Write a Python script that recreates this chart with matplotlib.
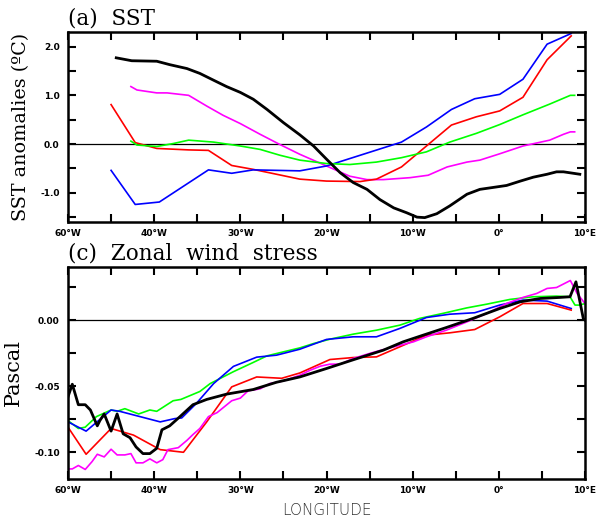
import matplotlib
matplotlib.use("Agg")
import matplotlib.pyplot as plt
from matplotlib.ticker import MultipleLocator

# ---------------- data ----------------
# (a) SST anomalies
sst_black_lon = [-44.4, -42.6, -39.7, -38.2, -36.2, -34.7, -33.1, -31.6, -30.0, -28.5, -26.9, -25.0, -23.1,
                 -21.5, -20.0, -18.4, -16.9, -15.3, -13.8, -12.2, -10.7, -9.5, -8.6, -7.2, -5.7, -3.7, -2.2,
                 -0.25, 0.9, 2.5, 4.0, 5.6, 6.7, 7.5, 9.4]
sst_black = [1.77, 1.71, 1.70, 1.63, 1.55, 1.45, 1.31, 1.18, 1.06, 0.92, 0.71, 0.44, 0.19,
             -0.04, -0.31, -0.59, -0.79, -0.93, -1.14, -1.31, -1.41, -1.50, -1.51, -1.43, -1.27, -1.03, -0.93,
             -0.88, -0.85, -0.76, -0.68, -0.62, -0.57, -0.57, -0.62]

sst_magenta_lon = [-42.7, -42.0, -39.7, -38.5, -36.0, -33.9, -32.0, -30.0, -27.7, -25.4, -23.1, -20.0, -17.3,
                   -15.3, -13.4, -10.3, -8.2, -6.0, -3.7, -2.2, 0.1, 2.8, 5.9, 7.5, 8.3, 8.8]
sst_magenta = [1.18, 1.11, 1.05, 1.05, 1.00, 0.78, 0.59, 0.42, 0.20, -0.01, -0.21, -0.45, -0.66,
               -0.73, -0.73, -0.69, -0.64, -0.47, -0.37, -0.33, -0.20, -0.04, 0.08, 0.20, 0.25, 0.25]

sst_red_lon = [-45.0, -42.2, -39.7, -36.0, -33.7, -31.0, -28.5, -23.1, -20.0, -16.1, -14.2, -11.3, -8.4,
               -5.5, -2.6, 0.1, 2.8, 5.6, 8.4]
sst_red = [0.81, 0.03, -0.09, -0.12, -0.13, -0.44, -0.52, -0.72, -0.76, -0.77, -0.72, -0.47, -0.04,
           0.39, 0.56, 0.68, 0.96, 1.73, 2.22]

sst_blue_lon = [-45.0, -42.2, -39.4, -33.7, -31.0, -28.5, -23.1, -20.0, -11.3, -8.4, -5.5, -2.8, 0.1, 2.8,
                5.6, 8.4]
sst_blue = [-0.54, -1.24, -1.19, -0.53, -0.60, -0.53, -0.55, -0.45, 0.04, 0.35, 0.71, 0.93, 1.02, 1.33,
            2.05, 2.27]

sst_green_lon = [-42.7, -42.0, -39.7, -37.8, -36.0, -33.1, -30.0, -27.7, -25.4, -23.1, -20.0, -17.3, -14.2,
                 -11.3, -8.4, -5.7, -2.6, 0.1, 2.8, 5.9, 8.3, 8.8]
sst_green = [0.06, -0.02, -0.05, 0.01, 0.08, 0.04, -0.04, -0.11, -0.23, -0.33, -0.40, -0.42, -0.37,
             -0.28, -0.16, 0.04, 0.22, 0.40, 0.60, 0.82, 1.00, 1.00]

# (c) Zonal wind stress
ws_black_lon = [-50.0, -49.5, -48.8, -48.0, -47.4, -46.6, -46.3, -45.8, -45.0, -44.3, -43.6, -42.8, -42.1,
                -41.3, -40.5, -39.7, -39.1, -38.2, -37.0, -35.5, -33.9, -31.6, -28.5, -25.8, -23.1, -20.0,
                -16.9, -13.4, -11.1, -8.8, -6.1, -3.0, 0.1, 2.5, 4.8, 7.1, 8.26, 8.95, 9.8, 10.0]
ws_black = [-0.058, -0.0485, -0.064, -0.064, -0.068, -0.080, -0.076, -0.071, -0.084, -0.071, -0.086, -0.089,
            -0.096, -0.101, -0.101, -0.097, -0.083, -0.080, -0.073, -0.064, -0.060, -0.056, -0.0525, -0.047,
            -0.043, -0.0366, -0.030, -0.0227, -0.0164, -0.0114, -0.0056, 0.0013, 0.0088, 0.0139, 0.0164,
            0.0172, 0.0177, 0.029, 0.0013, 0.0]

ws_green_lon = [-50.0, -48.8, -48.0, -46.7, -45.0, -44.3, -43.4, -41.8, -40.5, -39.7, -37.8, -36.9, -34.7,
                -33.5, -30.8, -28.5, -26.9, -25.0, -23.1, -21.5, -19.6, -16.9, -14.2, -11.5, -9.2, -6.5,
                -3.7, -1.4, 1.3, 4.0, 6.7, 8.26, 8.84, 9.4, 10.0]
ws_green = [-0.076, -0.082, -0.081, -0.073, -0.068, -0.069, -0.067, -0.071, -0.068, -0.069, -0.061, -0.060,
            -0.054, -0.048, -0.039, -0.032, -0.027, -0.024, -0.021, -0.0177, -0.0144, -0.0106, -0.0076,
            -0.0038, 0.0013, 0.0051, 0.0093, 0.0121, 0.0157, 0.0177, 0.0182, 0.0177, 0.0114, 0.0114, 0.0126]

ws_blue_lon = [-50.0, -47.9, -45.0, -44.0, -39.3, -37.6, -36.8, -35.1, -33.1, -30.8, -28.1, -25.8, -23.1,
               -20.0, -16.9, -14.2, -11.5, -8.4, -5.7, -2.8, 0.1, 2.8, 5.6, 8.4]
ws_blue = [-0.077, -0.084, -0.068, -0.069, -0.077, -0.0745, -0.074, -0.063, -0.048, -0.035, -0.028, -0.0265,
           -0.022, -0.0146, -0.0126, -0.0126, -0.0063, 0.0020, 0.0045, 0.0056, 0.0114, 0.0152, 0.0144, 0.0088]

ws_red_lon = [-50.0, -47.9, -45.0, -42.4, -39.3, -36.6, -33.9, -31.0, -28.1, -25.2, -23.1, -19.6, -16.9,
              -14.2, -11.5, -8.4, -5.7, -2.8, 0.1, 2.8, 5.6, 8.4]
ws_red = [-0.081, -0.1015, -0.082, -0.087, -0.098, -0.100, -0.077, -0.0505, -0.043, -0.044, -0.040, -0.0298,
          -0.0283, -0.0278, -0.0202, -0.0114, -0.0096, -0.0071, 0.0025, 0.0126, 0.0126, 0.0076]

ws_magenta_lon = [-50.0, -49.5, -48.8, -48.0, -47.2, -46.6, -45.8, -45.0, -44.3, -43.4, -42.7, -42.1, -41.3,
                  -40.5, -39.7, -39.0, -38.4, -37.2, -36.2, -35.5, -34.7, -33.7, -32.7, -31.0, -30.0, -29.1,
                  -27.7, -26.6, -25.0, -23.1, -21.9, -20.7, -19.6, -18.4, -16.9, -14.9, -13.8, -11.9, -9.9,
                  -8.4, -6.1, -3.7, -1.4, 0.9, 2.8, 4.4, 5.6, 6.7, 8.3, 9.1, 10.0]
ws_magenta = [-0.1126, -0.1126, -0.110, -0.113, -0.107, -0.1015, -0.1035, -0.0977, -0.102, -0.102, -0.101,
              -0.108, -0.108, -0.105, -0.108, -0.1056, -0.098, -0.0965, -0.091, -0.0866, -0.082, -0.073,
              -0.070, -0.061, -0.059, -0.0535, -0.052, -0.048, -0.046, -0.0417, -0.0379, -0.0348, -0.0333,
              -0.0333, -0.029, -0.025, -0.023, -0.0197, -0.0164, -0.0126, -0.0076, -0.0013, 0.0051, 0.0126,
              0.0172, 0.0202, 0.024, 0.0247, 0.030, 0.020, 0.0126]

x_ticks = [-50, -40, -30, -20, -10, 0, 10]
x_ticklabels = ["60°W", "40°W", "30°W", "20°W", "10°W", "0°", "10°E"]
sst_yticks = [-1.0, 0.0, 1.0, 2.0]
sst_yticklabels = ["-1.0", "0.0", "1.0", "2.0"]
ws_yticks = [-0.10, -0.05, 0.0]
ws_yticklabels = ["-0.10", "-0.05", "0.00"]

# ---------------- figure ----------------
fig = plt.figure(figsize=(5.99, 5.17), dpi=100)
W, H = 599, 517
ax1 = fig.add_axes([68 / W, 1 - 222 / H, 517 / W, 190 / H])
ax2 = fig.add_axes([68 / W, 1 - 478.7 / H, 517 / W, 211.4 / H])

serif = ["DejaVu Serif"]
tick_font = dict(family="DejaVu Sans", weight="bold", size=6.5)


def style(ax, yticks, yticklabels, yminor):
    ax.set_xlim(-50, 10)
    ax.set_xticks(x_ticks)
    ax.set_xticklabels(x_ticklabels, **tick_font)
    ax.xaxis.set_minor_locator(MultipleLocator(5))
    ax.set_yticks(yticks)
    ax.set_yticklabels(yticklabels, **tick_font)
    ax.yaxis.set_minor_locator(MultipleLocator(yminor))
    ax.tick_params(which="both", direction="in", top=True, right=True, length=6, width=1.5, pad=6)
    ax.tick_params(axis="x", which="major", pad=5)
    for s in ax.spines.values():
        s.set_linewidth(1.8)
    ax.axhline(0, color="black", lw=0.9, zorder=1)


lw_c = 1.2
lw_k = 2.0

ax1.plot(sst_black_lon, sst_black, color="black", lw=lw_k, zorder=5)
ax1.plot(sst_magenta_lon, sst_magenta, color="#ff00ff", lw=lw_c)
ax1.plot(sst_red_lon, sst_red, color="#ff0000", lw=lw_c)
ax1.plot(sst_blue_lon, sst_blue, color="#0000ff", lw=lw_c)
ax1.plot(sst_green_lon, sst_green, color="#00ff00", lw=lw_c)
ax1.set_ylim(-1.6, 2.3)
style(ax1, sst_yticks, sst_yticklabels, 0.5)
ax1.set_ylabel("SST anomalies (ºC)", family=serif, fontsize=13.8, labelpad=7)
ax1.text(0.0, 1.015, "(a)  SST", transform=ax1.transAxes, family=serif, fontsize=15.5,
         ha="left", va="bottom")

ax2.plot(ws_green_lon, ws_green, color="#00ff00", lw=lw_c)
ax2.plot(ws_blue_lon, ws_blue, color="#0000ff", lw=lw_c)
ax2.plot(ws_red_lon, ws_red, color="#ff0000", lw=lw_c)
ax2.plot(ws_magenta_lon, ws_magenta, color="#ff00ff", lw=lw_c)
ax2.plot(ws_black_lon, ws_black, color="black", lw=lw_k, zorder=5)
ax2.set_ylim(-0.12, 0.04)
style(ax2, ws_yticks, ws_yticklabels, 0.025)
ax2.set_ylabel("Pascal", family=serif, fontsize=15, labelpad=8)
ax2.text(0.0, 1.012, "(c)  Zonal  wind  stress", transform=ax2.transAxes, family=serif, fontsize=15.5,
         ha="left", va="bottom")
ax2.set_xlabel("LONGITUDE", family="DejaVu Sans", fontsize=11, color="#333333",
               fontweight="light", labelpad=6)

fig.savefig("out.png", dpi=100)
